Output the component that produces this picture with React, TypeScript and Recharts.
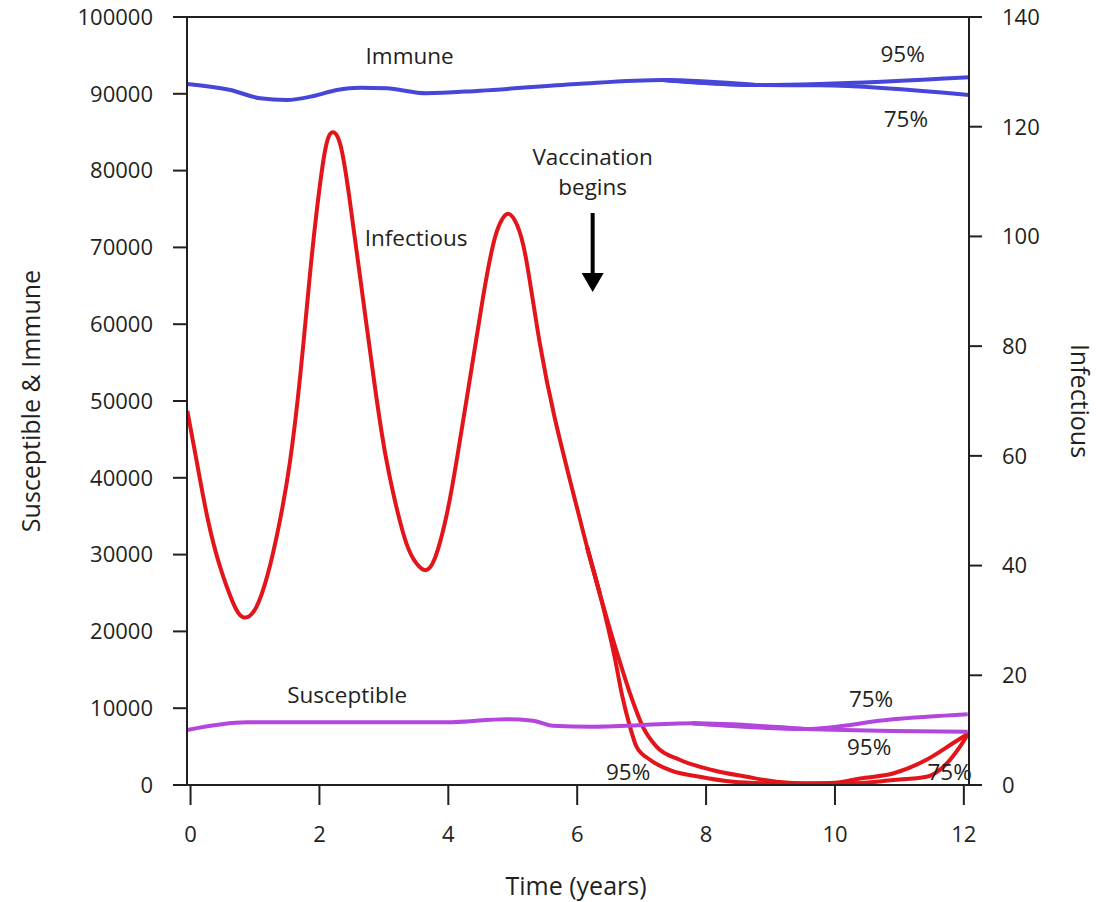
import React from "react"
import { LineChart, Line, XAxis, YAxis, ReferenceLine, ReferenceDot, Label } from "recharts"

const FONT = "'Open Sans', sans-serif"
const INK = "#231f20"
const BLUE = "#4646DA"
const RED = "#E2151B"
const PURPLE = "#B347DD"

// infectious (right axis), shared part up to vaccination split
const infYears = [-0.05, 0.1, 0.27, 0.46, 0.66, 0.81, 1.0, 1.2, 1.38, 1.54, 1.7, 1.85, 1.96, 2.09, 2.21, 2.33, 2.46, 2.63, 2.84, 3.04, 3.3, 3.47, 3.62, 3.78, 3.97, 4.13, 4.34, 4.54, 4.7, 4.82, 4.94, 5.07, 5.21, 5.42, 5.65, 5.9, 6.15, 6.35]
const infValues = [68.2, 58.7, 48.3, 39.7, 33.2, 30.6, 32.0, 38.5, 47.8, 58.7, 74.4, 92.7, 104.8, 115.8, 119.0, 116.5, 107.5, 92.7, 74.4, 59.2, 45.9, 41.0, 39.2, 41.0, 49.0, 59.2, 74.4, 89.0, 98.7, 102.8, 104.1, 102.0, 95.7, 80.5, 67.0, 55.0, 43.5, 34.9]
const inf95Years = [6.15, 6.35, 6.59, 6.69, 6.82, 6.92, 7.13, 7.44, 7.9, 8.42, 9.0, 9.5, 10.0, 10.39, 10.9, 11.42, 11.83, 12.07]
const inf95Values = [43.5, 34.9, 22.8, 16.7, 10.6, 7.0, 4.6, 2.7, 1.5, 0.6, 0.3, 0.2, 0.4, 1.2, 2.1, 4.6, 7.6, 9.4]
const inf75Years = [6.15, 6.35, 6.51, 6.69, 6.84, 7.02, 7.23, 7.59, 8.11, 8.63, 9.09, 9.6, 10.2, 10.9, 11.42, 11.68, 11.94, 12.07]
const inf75Values = [43.5, 34.9, 28.3, 21.4, 16.0, 10.6, 7.0, 4.6, 2.7, 1.5, 0.6, 0.3, 0.3, 0.9, 1.5, 3.3, 7.0, 9.4]

// immune (left axis)
const immYears = [-0.05, 0.62, 1.08, 1.49, 1.91, 2.27, 2.63, 3.04, 3.66, 4.49, 5.99, 7.33, 8.78]
const immValues = [91276, 90495, 89410, 89193, 89714, 90495, 90799, 90712, 90061, 90408, 91276, 91797, 91146]
const imm95Years = [7.33, 8.78, 9.76, 12.08]
const imm95Values = [91797, 91146, 91276, 92145]
const imm75Years = [7.33, 8.78, 9.76, 12.08]
const imm75Values = [91797, 91146, 91106, 89844]

// susceptible (left axis)
const susYears = [-0.05, 0.87, 3.97, 4.9, 5.31, 5.62, 6.24, 7.79, 9.54]
const susValues = [7161, 8160, 8160, 8550, 8377, 7726, 7600, 8030, 7292]
const sus75Years = [7.79, 9.54, 10.9, 12.06]
const sus75Values = [8030, 7292, 8550, 9201]
const sus95Years = [7.79, 9.54, 10.9, 12.06]
const sus95Values = [8030, 7292, 7031, 6944]

const xTicks = [0, 2, 4, 6, 8, 10, 12]
const leftTicks = [0, 10000, 20000, 30000, 40000, 50000, 60000, 70000, 80000, 90000, 100000]
const rightTicks = [0, 20, 40, 60, 80, 100, 120, 140]

// annotations, placed in data coordinates (left axis)
const noteText = ["Immune", "95%", "75%", "Infectious", "Vaccination", "begins", "Susceptible", "75%", "95%", "95%", "75%"]
const noteYears = [3.4, 11.05, 11.1, 3.5, 6.24, 6.24, 2.43, 10.56, 10.53, 6.79, 11.78]
const noteValues = [95052, 95312, 86719, 71354, 81771, 77865, 11719, 11328, 4948, 1693, 1693]

const zip = (xs: number[], ys: number[]) => xs.map((t, i) => ({ t, v: ys[i] }))

const textStyle = { fill: INK, fontFamily: FONT, fontSize: 22.5 }
const tickStyle = { fill: INK, fontFamily: FONT, fontSize: 22 }
const stroke = { stroke: INK, strokeWidth: 2 }

function Arrow(p: any) {
  const { cx, cy } = p
  return (
    <g>
      <line x1={cx} y1={cy - 40} x2={cx} y2={cy + 22} stroke="#000" strokeWidth={4} />
      <polygon points={`${cx - 11},${cy + 20} ${cx + 11},${cy + 20} ${cx},${cy + 39}`} fill="#000" />
    </g>
  )
}

function title(text: string, dx: number, dy: number, angle: number) {
  return (p: any) => {
    const vb = p.viewBox || { x: 0, y: 0, width: 0, height: 0 }
    const x = angle === 0 ? vb.x + vb.width / 2 + dx : vb.x + dx
    const y = angle === 0 ? vb.y + dy : vb.y + vb.height / 2 + dy
    return (
      <text x={x} y={y} transform={`rotate(${angle} ${x} ${y})`} textAnchor="middle"
        dominantBaseline="central" fill={INK} fontFamily={FONT} fontSize={25}>
        {text}
      </text>
    )
  }
}

export default function App() {
  const series = [
    { id: "inf", axis: "right", color: RED, curve: "natural", data: zip(infYears, infValues) },
    { id: "inf95", axis: "right", color: RED, curve: "monotone", data: zip(inf95Years, inf95Values) },
    { id: "inf75", axis: "right", color: RED, curve: "monotone", data: zip(inf75Years, inf75Values) },
    { id: "imm", axis: "left", color: BLUE, curve: "monotone", data: zip(immYears, immValues) },
    { id: "imm95", axis: "left", color: BLUE, curve: "monotone", data: zip(imm95Years, imm95Values) },
    { id: "imm75", axis: "left", color: BLUE, curve: "monotone", data: zip(imm75Years, imm75Values) },
    { id: "sus", axis: "left", color: PURPLE, curve: "monotone", data: zip(susYears, susValues) },
    { id: "sus75", axis: "left", color: PURPLE, curve: "monotone", data: zip(sus75Years, sus75Values) },
    { id: "sus95", axis: "left", color: PURPLE, curve: "monotone", data: zip(sus95Years, sus95Values) },
  ]

  return (
    <div style={{ position: "absolute", left: 0, top: 0, background: "#fff" }}>
      <LineChart width={1098} height={902} margin={{ top: 17, right: 0, bottom: 17, left: 0 }}>
        <XAxis dataKey="t" type="number" domain={[-0.055, 12.08]} ticks={xTicks} interval={0}
          allowDataOverflow height={100} tickSize={20} tickMargin={21} tick={tickStyle}
          tickLine={stroke} axisLine={stroke}>
          <Label content={title("Time (years)", -2, 100, 0)} />
        </XAxis>
        <YAxis yAxisId="left" orientation="left" domain={[0, 100000]} ticks={leftTicks} interval={0}
          width={187} tickSize={14} tickMargin={20} tick={tickStyle} tickLine={stroke} axisLine={stroke}>
          <Label content={title("Susceptible & Immune", 30, 0, -90)} />
        </YAxis>
        <YAxis yAxisId="right" orientation="right" domain={[0, 140]} ticks={rightTicks} interval={0}
          width={129} tickSize={13} tickMargin={20} tick={tickStyle} tickLine={stroke} axisLine={stroke}>
          <Label content={title("Infectious", 112, 0, 90)} />
        </YAxis>
        <ReferenceLine yAxisId="left" y={100000} stroke={INK} strokeWidth={2} />
        {series.map((s) => (
          <Line key={s.id} yAxisId={s.axis} data={s.data} dataKey="v" type={s.curve as any} stroke={s.color}
            strokeWidth={4} dot={false} activeDot={false} isAnimationActive={false} />
        ))}
        {noteText.map((txt, i) => (
          <ReferenceDot key={i} yAxisId="left" x={noteYears[i]} y={noteValues[i]} r={0}
            shape={(p: any) => (
              <text x={p.cx} y={p.cy} textAnchor="middle" dominantBaseline="central" {...textStyle}>{txt}</text>
            )} />
        ))}
        <ReferenceDot yAxisId="left" x={6.24} y={69271} r={0} shape={Arrow} />
      </LineChart>
    </div>
  )
}
